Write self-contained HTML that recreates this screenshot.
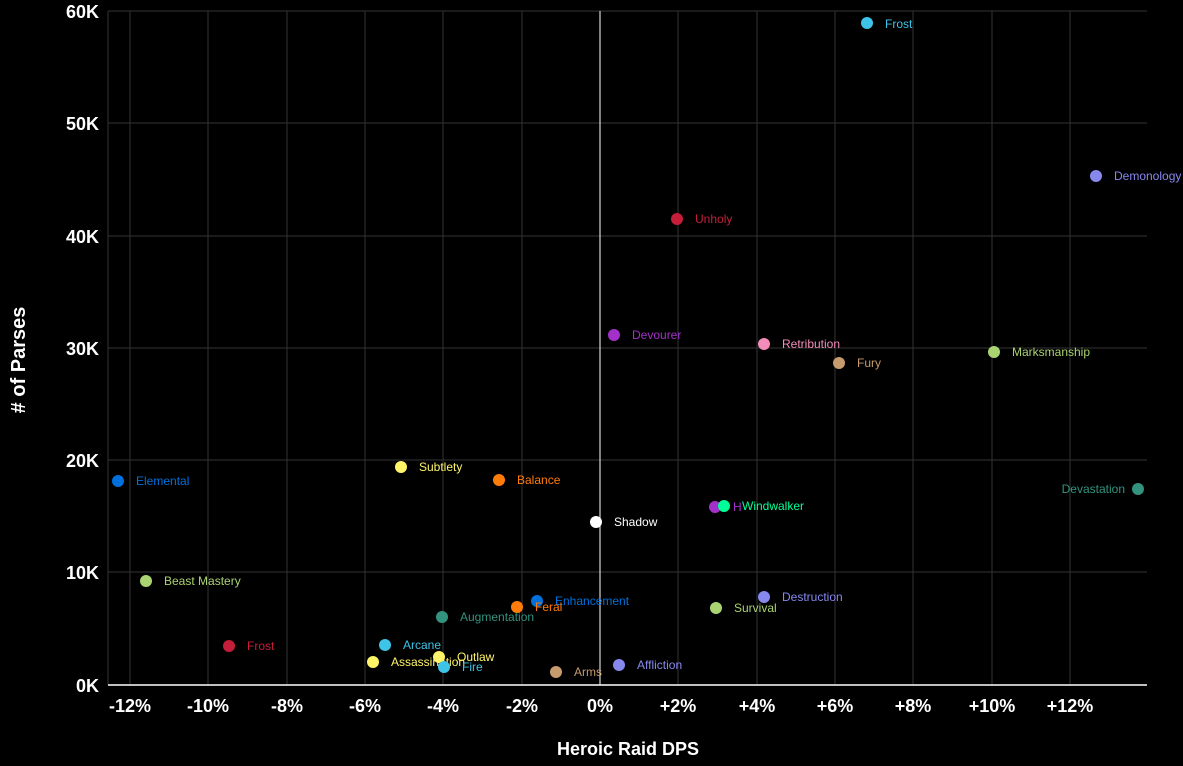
<!DOCTYPE html>
<html><head><meta charset="utf-8"><style>
body{margin:0;background:#000;}
svg{display:block;font-family:"Liberation Sans",sans-serif;}
</style></head><body>
<svg width="1183" height="766" xmlns="http://www.w3.org/2000/svg">
<rect width="1183" height="766" fill="#000"/>
<g stroke="#333" stroke-width="1">
<line x1="108" y1="11" x2="1147" y2="11"/><line x1="108" y1="123" x2="1147" y2="123"/>
<line x1="108" y1="236" x2="1147" y2="236"/><line x1="108" y1="348" x2="1147" y2="348"/>
<line x1="108" y1="460" x2="1147" y2="460"/><line x1="108" y1="572" x2="1147" y2="572"/>
<line x1="130" y1="11" x2="130" y2="685"/><line x1="208" y1="11" x2="208" y2="685"/>
<line x1="287" y1="11" x2="287" y2="685"/><line x1="365" y1="11" x2="365" y2="685"/>
<line x1="443" y1="11" x2="443" y2="685"/><line x1="522" y1="11" x2="522" y2="685"/>
<line x1="678" y1="11" x2="678" y2="685"/><line x1="757" y1="11" x2="757" y2="685"/>
<line x1="835" y1="11" x2="835" y2="685"/><line x1="913" y1="11" x2="913" y2="685"/>
<line x1="992" y1="11" x2="992" y2="685"/><line x1="1070" y1="11" x2="1070" y2="685"/>
<line x1="108" y1="11" x2="108" y2="685"/>
</g>
<line x1="600" y1="11" x2="600" y2="685" stroke="#fff" stroke-width="1"/>
<line x1="108" y1="685" x2="1147" y2="685" stroke="#fff" stroke-width="1.5"/>
<g fill="#fff" font-weight="bold" font-size="18" text-anchor="end">
<text x="99" y="18">60K</text><text x="99" y="130">50K</text><text x="99" y="243">40K</text>
<text x="99" y="355">30K</text><text x="99" y="467">20K</text><text x="99" y="579">10K</text><text x="99" y="692">0K</text>
</g>
<g fill="#fff" font-weight="bold" font-size="18" text-anchor="middle">
<text x="130" y="712">-12%</text><text x="208" y="712">-10%</text><text x="287" y="712">-8%</text>
<text x="365" y="712">-6%</text><text x="443" y="712">-4%</text><text x="522" y="712">-2%</text>
<text x="600" y="712">0%</text><text x="678" y="712">+2%</text><text x="757" y="712">+4%</text>
<text x="835" y="712">+6%</text><text x="913" y="712">+8%</text><text x="992" y="712">+10%</text>
<text x="1070" y="712">+12%</text>
<text x="628" y="755">Heroic Raid DPS</text>
<text transform="translate(25,360) rotate(-90)" font-size="20">#‌ of Parses</text>
</g>
<g font-size="12">
<g fill="#3ec4e8"><circle cx="867" cy="23" r="6"/><text x="885" y="28">Frost</text></g>
<g fill="#8788ee"><circle cx="1096" cy="176" r="6"/><text x="1114" y="180">Demonology</text></g>
<g fill="#c41e3a"><circle cx="677" cy="219" r="6"/><text x="695" y="223">Unholy</text></g>
<g fill="#a330c9"><circle cx="614" cy="335" r="6"/><text x="632" y="339">Devourer</text></g>
<g fill="#f48cba"><circle cx="764" cy="344" r="6"/><text x="782" y="348">Retribution</text></g>
<g fill="#aad372"><circle cx="994" cy="352" r="6"/><text x="1012" y="356">Marksmanship</text></g>
<g fill="#c69b6d"><circle cx="839" cy="363" r="6"/><text x="857" y="367">Fury</text></g>
<g fill="#fff468"><circle cx="401" cy="467" r="6"/><text x="419" y="471">Subtlety</text></g>
<g fill="#0070dd"><circle cx="118" cy="481" r="6"/><text x="136" y="485">Elemental</text></g>
<g fill="#ff7c0a"><circle cx="499" cy="480" r="6"/><text x="517" y="484">Balance</text></g>
<g fill="#33937f"><circle cx="1138" cy="489" r="6"/><text x="1125" y="493" text-anchor="end">Devastation</text></g>
<g fill="#a330c9"><circle cx="715" cy="507" r="6"/><text x="733" y="511">H</text></g>
<g fill="#00ff98"><circle cx="724" cy="506" r="6"/><text x="742" y="510">Windwalker</text></g>
<g fill="#fff"><circle cx="596" cy="522" r="6"/><text x="614" y="526">Shadow</text></g>
<g fill="#aad372"><circle cx="146" cy="581" r="6"/><text x="164" y="585">Beast Mastery</text></g>
<g fill="#0070dd"><circle cx="537" cy="601" r="6"/><text x="555" y="605">Enhancement</text></g>
<g fill="#ff7c0a"><circle cx="517" cy="607" r="6"/><text x="535" y="611">Feral</text></g>
<g fill="#8788ee"><circle cx="764" cy="597" r="6"/><text x="782" y="601">Destruction</text></g>
<g fill="#aad372"><circle cx="716" cy="608" r="6"/><text x="734" y="612">Survival</text></g>
<g fill="#33937f"><circle cx="442" cy="617" r="6"/><text x="460" y="621">Augmentation</text></g>
<g fill="#c41e3a"><circle cx="229" cy="646" r="6"/><text x="247" y="650">Frost</text></g>
<g fill="#3ec4e8"><circle cx="385" cy="645" r="6"/><text x="403" y="649">Arcane</text></g>
<g fill="#fff468"><circle cx="439" cy="657" r="6"/><text x="457" y="661">Outlaw</text></g>
<g fill="#fff468"><circle cx="373" cy="662" r="6"/><text x="391" y="666">Assassination</text></g>
<g fill="#3ec4e8"><circle cx="444" cy="667" r="6"/><text x="462" y="671">Fire</text></g>
<g fill="#8788ee"><circle cx="619" cy="665" r="6"/><text x="637" y="669">Affliction</text></g>
<g fill="#c69b6d"><circle cx="556" cy="672" r="6"/><text x="574" y="676">Arms</text></g>
</g>
</svg>
</body></html>
